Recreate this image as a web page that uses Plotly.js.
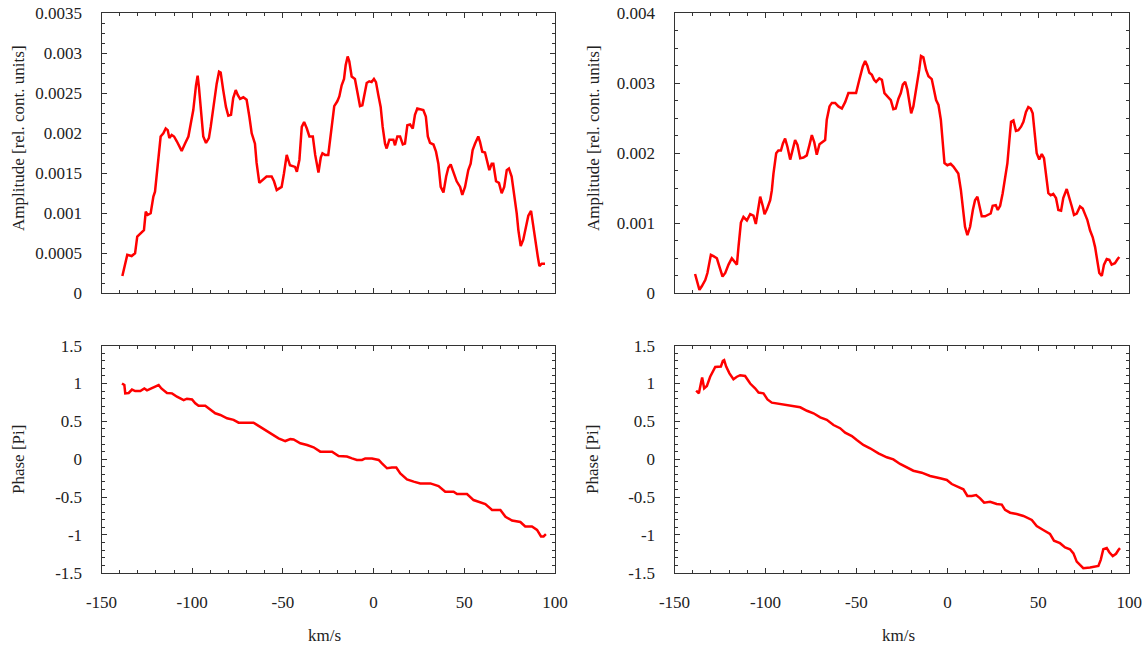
<!DOCTYPE html>
<html>
<head>
<meta charset="utf-8">
<script src="https://cdn.plot.ly/plotly-3.0.1.min.js"></script>
<style>
  html, body { margin: 0; padding: 0; background: #fff; }
  #chart { width: 1148px; height: 650px; }
</style>
</head>
<body>
<div id="chart"></div>
<script>
// Velocity axis (km/s) and its tick labels
const velTicks = [-150, -100, -50, 0, 50, 100];
const velTickText = ['-150', '-100', '-50', '0', '50', '100'];

// Amplitude tick labels
const ampLeftTicks = [0, 0.0005, 0.001, 0.0015, 0.002, 0.0025, 0.003, 0.0035];
const ampLeftTickText = ['0', '0.0005', '0.001', '0.0015', '0.002', '0.0025', '0.003', '0.0035'];
const ampRightTicks = [0, 0.001, 0.002, 0.003, 0.004];
const ampRightTickText = ['0', '0.001', '0.002', '0.003', '0.004'];

// Phase tick labels
const phaseTicks = [-1.5, -1, -0.5, 0, 0.5, 1, 1.5];
const phaseTickText = ['-1.5', '-1', '-0.5', '0', '0.5', '1', '1.5'];

// Left column: amplitude
const ampLeftX = [-138.5, -137.0, -135.8, -133.4, -131.5, -130.3, -127.9, -126.6, -125.6, -124.5,
  -122.9, -121.4, -120.5, -119.6, -118.1, -117.4, -115.9, -114.6, -113.5, -112.6,
  -111.3, -110.0, -108.5, -105.8, -104.0, -102.1, -100.8, -99.4, -97.9, -97.0,
  -96.3, -95.3, -93.9, -92.4, -90.8, -89.8, -88.4, -86.5, -85.2, -84.3,
  -82.9, -81.4, -80.1, -78.6, -77.4, -76.0, -74.9, -73.6, -71.8, -70.0,
  -68.5, -67.2, -65.4, -64.5, -63.0, -60.8, -59.0, -56.2, -54.9, -53.4,
  -50.7, -49.4, -47.9, -46.1, -43.3, -42.3, -40.9, -39.6, -38.3, -36.8,
  -35.4, -33.5, -32.2, -30.4, -29.1, -28.2, -26.8, -25.0, -23.6, -22.5,
  -21.7, -20.0, -18.9, -17.6, -16.3, -15.4, -14.3, -13.4, -12.1, -10.3,
  -9.0, -7.5, -6.2, -5.1, -3.8, -2.4, -1.1, 0.2, 1.3, 2.6,
  3.9, 5.0, 6.3, 7.2, 8.7, 10.9, 11.8, 13.1, 14.6, 16.1,
  17.3, 18.6, 20.1, 21.6, 22.8, 24.1, 25.6, 27.4, 28.8, 29.9,
  31.1, 33.0, 34.4, 35.7, 37.0, 38.5, 40.0, 41.2, 42.5, 44.0,
  45.8, 47.7, 48.9, 50.4, 52.2, 53.5, 54.6, 55.9, 57.7, 58.7,
  59.9, 61.4, 62.7, 63.8, 65.1, 66.0, 67.5, 69.1, 70.6, 72.0,
  73.4, 74.6, 76.1, 77.4, 78.9, 79.8, 81.1, 82.5, 84.0, 85.3,
  86.8, 88.1, 89.4, 90.5, 91.4, 92.7, 94.5];
const ampLeftY = [0.000216, 0.000375, 0.00048, 0.000466, 0.0005, 0.000708, 0.00077, 0.00079, 0.00102, 0.00098,
  0.0010, 0.00121, 0.00127, 0.0015, 0.00183, 0.00196, 0.0020, 0.00206, 0.00204, 0.00194,
  0.00198, 0.00196, 0.0019, 0.00178, 0.00187, 0.00196, 0.00212, 0.00229, 0.0026, 0.00272,
  0.00258, 0.00229, 0.00196, 0.00188, 0.00194, 0.00208, 0.00233, 0.00262, 0.00277, 0.00276,
  0.00254, 0.00233, 0.00222, 0.00223, 0.00244, 0.00254, 0.00248, 0.00243, 0.00245, 0.00242,
  0.00221, 0.0020, 0.00187, 0.00163, 0.00138, 0.00142, 0.00146, 0.00146, 0.0014, 0.00129,
  0.00133, 0.0015, 0.00173, 0.0016, 0.00158, 0.00152, 0.00167, 0.00208, 0.00214, 0.00206,
  0.00196, 0.00196, 0.00173, 0.00151, 0.0017, 0.00175, 0.00173, 0.00173, 0.0020, 0.00221,
  0.00234, 0.0024, 0.00246, 0.0026, 0.00268, 0.00285, 0.00296, 0.0029, 0.00271, 0.00268,
  0.00254, 0.00234, 0.00235, 0.00246, 0.00263, 0.00265, 0.00264, 0.00268, 0.00264, 0.00248,
  0.00233, 0.00208, 0.00187, 0.00181, 0.00192, 0.00192, 0.00185, 0.00196, 0.00196, 0.00186,
  0.00187, 0.0021, 0.00211, 0.00206, 0.00223, 0.00231, 0.0023, 0.00229, 0.00221, 0.00196,
  0.00188, 0.00186, 0.00177, 0.00162, 0.00133, 0.00126, 0.00146, 0.00157, 0.00161, 0.00152,
  0.0014, 0.00133, 0.00123, 0.00133, 0.00154, 0.00162, 0.00179, 0.00187, 0.00196, 0.00189,
  0.00177, 0.00176, 0.00162, 0.00154, 0.00162, 0.00162, 0.0014, 0.00138, 0.00125, 0.00133,
  0.00154, 0.00156, 0.00146, 0.00125, 0.0010, 0.00079, 0.00059, 0.00067, 0.00083, 0.00097,
  0.00103, 0.00083, 0.00058, 0.00046, 0.00034, 0.00037, 0.00037];

// Left column: phase
const phaseLeftX = [-138.7, -137.4, -136.9, -135.0, -133.2, -131.4, -128.6, -126.4, -124.9, -122.2,
  -119.8, -118.5, -117.0, -113.9, -111.1, -108.4, -104.7, -102.9, -100.1, -98.3,
  -96.5, -92.8, -90.0, -87.3, -84.5, -80.8, -77.2, -74.4, -69.8, -66.2,
  -63.4, -59.7, -56.0, -52.4, -48.7, -45.9, -44.1, -40.4, -36.7, -33.1,
  -29.4, -22.9, -19.3, -14.7, -11.9, -9.2, -6.4, -4.6, -0.9, 2.8,
  4.6, 7.4, 10.1, 12.5, 14.7, 18.4, 22.1, 25.7, 31.3, 35.8,
  39.5, 44.1, 46.0, 51.5, 55.1, 57.9, 61.6, 65.3, 69.9, 72.7,
  76.3, 80.9, 83.6, 87.3, 90.1, 92.3, 93.7, 95.0];
const phaseLeftY = [1.0, 0.98, 0.87, 0.875, 0.92, 0.90, 0.90, 0.935, 0.91, 0.935,
  0.967, 0.98, 0.935, 0.875, 0.87, 0.826, 0.78, 0.80, 0.79, 0.738,
  0.705, 0.705, 0.66, 0.607, 0.585, 0.54, 0.52, 0.483, 0.483, 0.483,
  0.44, 0.386, 0.333, 0.276, 0.24, 0.265, 0.26, 0.21, 0.188, 0.157,
  0.10, 0.10, 0.042, 0.035, 0.01, -0.01, -0.01, 0.01, 0.01, -0.01,
  -0.055, -0.12, -0.11, -0.11, -0.187, -0.266, -0.297, -0.32, -0.32, -0.354,
  -0.43, -0.43, -0.46, -0.46, -0.54, -0.56, -0.592, -0.67, -0.67, -0.76,
  -0.81, -0.83, -0.89, -0.89, -0.935, -1.02, -1.02, -0.99];

// Right column: amplitude
const ampRightX = [-138.7, -136.3, -135.0, -133.1, -131.9, -130.8, -130.0, -128.6, -126.7, -125.3,
  -123.6, -122.1, -120.3, -118.5, -117.2, -115.7, -114.8, -113.5, -112.1, -110.2,
  -108.4, -106.6, -105.3, -104.4, -102.9, -101.4, -100.5, -99.2, -97.4, -96.5,
  -95.6, -94.1, -92.9, -91.5, -90.4, -89.2, -87.9, -86.4, -85.2, -83.7,
  -82.4, -80.9, -79.1, -77.3, -75.8, -74.5, -73.2, -71.8, -70.3, -69.0,
  -67.2, -66.3, -64.8, -63.5, -61.7, -59.9, -58.0, -56.2, -54.4, -52.5,
  -50.2, -48.4, -46.5, -45.2, -44.0, -42.9, -41.5, -40.3, -39.2, -37.4,
  -36.0, -34.6, -33.0, -31.1, -29.7, -28.4, -26.9, -25.6, -24.5, -23.2,
  -22.0, -20.9, -19.9, -18.7, -17.7, -16.8, -15.5, -14.5, -13.2, -11.7,
  -10.4, -8.6, -7.3, -6.2, -4.9, -3.6, -2.5, -1.6, 0.0, 1.8,
  3.3, 4.8, 6.0, 7.4, 8.5, 9.7, 11.0, 12.5, 14.0, 15.2,
  16.5, 17.6, 18.9, 20.7, 22.5, 23.8, 24.9, 26.6, 27.7, 29.0,
  30.4, 31.7, 33.0, 34.1, 35.0, 36.3, 37.7, 39.0, 40.5, 41.8,
  43.2, 44.5, 45.8, 46.9, 47.8, 49.1, 50.5, 51.9, 53.1, 54.2,
  55.5, 56.8, 58.2, 59.7, 61.0, 62.5, 63.7, 65.6, 67.0, 68.4,
  69.6, 71.1, 72.9, 74.4, 75.8, 76.9, 78.4, 79.9, 81.2, 82.4,
  83.5, 84.9, 86.1, 87.6, 89.0, 90.3, 92.1, 93.6, 94.5];
const ampRightY = [0.000276, 0.00005, 0.0001, 0.00019, 0.00029, 0.00045, 0.00055, 0.00053, 0.0005, 0.00038,
  0.00024, 0.00029, 0.00041, 0.0005, 0.00045, 0.00041, 0.00067, 0.00101, 0.00109, 0.00104,
  0.00113, 0.00111, 0.00099, 0.00116, 0.00138, 0.00124, 0.00113, 0.0012, 0.00133, 0.00147,
  0.00171, 0.0020, 0.00204, 0.00204, 0.00214, 0.00221, 0.00209, 0.00191, 0.00202, 0.00219,
  0.00212, 0.00193, 0.00194, 0.00197, 0.00212, 0.00226, 0.00216, 0.00198, 0.00213, 0.00215,
  0.00219, 0.00248, 0.00267, 0.00272, 0.00272, 0.00267, 0.00264, 0.00273, 0.00286, 0.00286,
  0.00286, 0.00305, 0.00324, 0.00332, 0.00325, 0.00315, 0.00312, 0.00305, 0.00302, 0.00307,
  0.00305, 0.00286, 0.00282, 0.00276, 0.00263, 0.00264, 0.00278, 0.00286, 0.00298, 0.00302,
  0.00291, 0.00271, 0.00257, 0.00267, 0.00283, 0.00295, 0.00319, 0.00339, 0.00337, 0.00319,
  0.0031, 0.00306, 0.0029, 0.00276, 0.00269, 0.00248, 0.00214, 0.00186, 0.00183, 0.00185,
  0.00181, 0.00175, 0.00171, 0.00148, 0.00119, 0.00095, 0.00083, 0.00095, 0.00119, 0.00133,
  0.00138, 0.00124, 0.0011, 0.0011, 0.00112, 0.00114, 0.00125, 0.00126, 0.00119, 0.00125,
  0.00143, 0.00162, 0.00186, 0.00219, 0.00245, 0.00247, 0.00232, 0.00233, 0.00238, 0.00245,
  0.00259, 0.00266, 0.00264, 0.00257, 0.00233, 0.0020, 0.00191, 0.00199, 0.00193, 0.00167,
  0.00143, 0.0014, 0.00142, 0.00136, 0.00119, 0.00118, 0.00136, 0.00149, 0.00138, 0.00124,
  0.00112, 0.00114, 0.00124, 0.00121, 0.00112, 0.00105, 0.0009, 0.0008, 0.00066, 0.00047,
  0.00029, 0.00025, 0.00041, 0.00049, 0.00048, 0.00041, 0.00043, 0.00049, 0.00052];

// Right column: phase
const phaseRightX = [-138.1, -136.6, -135.5, -134.8, -133.7, -132.2, -130.4, -128.6, -127.6, -124.5,
  -123.4, -122.7, -121.6, -119.8, -117.6, -115.7, -113.9, -111.2, -108.4, -105.7,
  -103.8, -101.1, -98.9, -96.5, -91.9, -87.4, -80.9, -77.2, -73.6, -69.9,
  -66.3, -62.6, -59.0, -56.2, -52.5, -49.8, -46.2, -42.5, -37.9, -33.3,
  -29.7, -26.0, -22.3, -18.7, -14.1, -9.5, -4.0, -0.3, 2.4, 5.2,
  8.8, 11.0, 13.4, 15.8, 18.0, 20.2, 23.5, 27.1, 29.9, 31.7,
  34.5, 38.1, 41.8, 46.4, 49.1, 52.7, 56.4, 58.6, 61.9, 64.7,
  67.4, 69.3, 71.1, 72.9, 74.7, 78.4, 83.0, 84.3, 85.7, 87.6,
  89.0, 90.9, 92.7, 94.0, 94.9];
const phaseRightY = [0.905, 0.87, 1.0, 1.08, 0.937, 0.967, 1.09, 1.18, 1.22, 1.225,
  1.30, 1.31, 1.225, 1.135, 1.056, 1.09, 1.11, 1.10, 1.0, 0.937,
  0.88, 0.87, 0.79, 0.747, 0.73, 0.705, 0.686, 0.64, 0.607, 0.553,
  0.52, 0.452, 0.41, 0.35, 0.306, 0.253, 0.188, 0.144, 0.078, 0.025,
  -0.002, -0.063, -0.107, -0.152, -0.178, -0.222, -0.253, -0.275, -0.328, -0.363,
  -0.398, -0.486, -0.486, -0.475, -0.517, -0.575, -0.563, -0.592, -0.60, -0.67,
  -0.707, -0.725, -0.75, -0.803, -0.883, -0.935, -0.988, -1.077, -1.11, -1.165,
  -1.19, -1.245, -1.354, -1.398, -1.44, -1.43, -1.41, -1.33, -1.19, -1.175,
  -1.23, -1.28, -1.25, -1.20, -1.175];

// Page geometry (pixels) and conversion to paper fractions
const W = 1148, H = 650;
const fx = px => px / W;
const fy = py => 1 - py / H;

const serif = 'Liberation Serif, Times New Roman, serif';
const inkColor = '#333333';
const textColor = '#222222';
const curve = { color: '#ff0000', width: 2.5 };

function frame(extra) {
  return Object.assign({
    showline: true, linecolor: inkColor, linewidth: 1, mirror: 'allticks',
    ticks: 'inside', ticklen: 5, tickwidth: 1, tickcolor: inkColor,
    showgrid: false, zeroline: false, fixedrange: true,
    tickfont: { family: serif, size: 17, color: textColor },
    tickmode: 'array'
  }, extra);
}
function minor(dtick) {
  return { tickmode: 'linear', tick0: 0, dtick: dtick, ticks: 'inside', ticklen: 3, tickwidth: 1, tickcolor: inkColor, showgrid: false };
}

const leftDom = [fx(101.5), fx(555)];
const rightDom = [fx(674.5), fx(1129.3)];
const topDom = [fy(293.3), fy(13.3)];
const botDom = [fy(572.7), fy(345.7)];

const velAxis = dom => frame({ domain: dom, range: [-150, 100], tickvals: velTicks, ticktext: velTickText, minor: minor(10) });

const traces = [
  { x: ampLeftX, y: ampLeftY, xaxis: 'x', yaxis: 'y', mode: 'lines', line: curve },
  { x: ampRightX, y: ampRightY, xaxis: 'x2', yaxis: 'y2', mode: 'lines', line: curve },
  { x: phaseLeftX, y: phaseLeftY, xaxis: 'x3', yaxis: 'y3', mode: 'lines', line: curve },
  { x: phaseRightX, y: phaseRightY, xaxis: 'x4', yaxis: 'y4', mode: 'lines', line: curve }
];

const titleFont = { family: serif, size: 17, color: textColor };
function ytitle(text, x, y) {
  return { text: text, xref: 'paper', yref: 'paper', x: fx(x), y: fy(y), textangle: -90,
    showarrow: false, xanchor: 'center', yanchor: 'middle', font: titleFont };
}
function xtitle(text, x, y) {
  return { text: text, xref: 'paper', yref: 'paper', x: fx(x), y: fy(y),
    showarrow: false, xanchor: 'center', yanchor: 'middle', font: titleFont };
}

const layout = {
  width: W, height: H,
  margin: { l: 0, r: 0, t: 0, b: 0 },
  paper_bgcolor: '#ffffff', plot_bgcolor: '#ffffff',
  showlegend: false,
  xaxis: Object.assign(velAxis(leftDom), { anchor: 'y', showticklabels: false }),
  xaxis2: Object.assign(velAxis(rightDom), { anchor: 'y2', showticklabels: false }),
  xaxis3: Object.assign(velAxis(leftDom), { anchor: 'y3', ticklabelstandoff: 14 }),
  xaxis4: Object.assign(velAxis(rightDom), { anchor: 'y4', ticklabelstandoff: 14 }),
  yaxis: frame({ domain: topDom, anchor: 'x', range: [0, 0.0035], tickvals: ampLeftTicks, ticktext: ampLeftTickText, minor: minor(0.000125), ticklabelstandoff: 15 }),
  yaxis2: frame({ domain: topDom, anchor: 'x2', range: [0, 0.004], tickvals: ampRightTicks, ticktext: ampRightTickText, minor: minor(0.00025), ticklabelstandoff: 15 }),
  yaxis3: frame({ domain: botDom, anchor: 'x3', range: [-1.5, 1.5], tickvals: phaseTicks, ticktext: phaseTickText, minor: minor(0.1), ticklabelstandoff: 15 }),
  yaxis4: frame({ domain: botDom, anchor: 'x4', range: [-1.5, 1.5], tickvals: phaseTicks, ticktext: phaseTickText, minor: minor(0.1), ticklabelstandoff: 15 }),
  annotations: [
    ytitle('Amplitude [rel. cont. units]', 18, 138),
    ytitle('Amplitude [rel. cont. units]', 593, 138),
    ytitle('Phase [Pi]', 18, 460),
    ytitle('Phase [Pi]', 592, 460),
    xtitle('km/s', 324, 635),
    xtitle('km/s', 898, 635)
  ]
};

Plotly.newPlot('chart', traces, layout, { displayModeBar: false, staticPlot: true });
</script>
</body>
</html>
